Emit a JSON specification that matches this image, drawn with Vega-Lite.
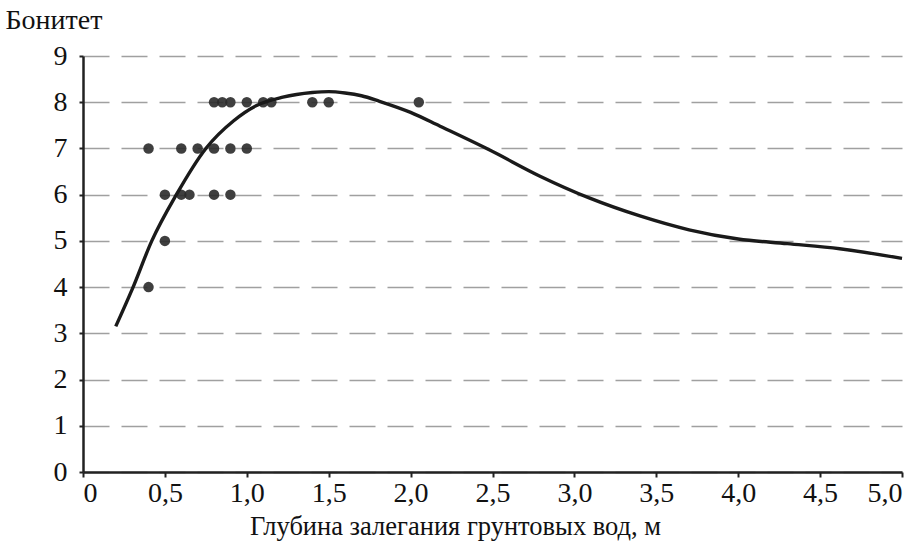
{
  "$schema": "https://vega.github.io/schema/vega-lite/v6.json",
  "width": 819,
  "height": 416,
  "autosize": {"type": "none"},
  "padding": {"left": 83, "top": 56, "right": 22, "bottom": 75},
  "background": "white",
  "config": {
    "view": {"stroke": null},
    "font": "Liberation Serif"
  },
  "datasets": {
    "pts": [
      {"x": 0.8, "y": 8}, {"x": 0.85, "y": 8}, {"x": 0.9, "y": 8}, {"x": 1.0, "y": 8}, {"x": 1.1, "y": 8}, {"x": 1.15, "y": 8}, {"x": 1.4, "y": 8}, {"x": 1.5, "y": 8}, {"x": 2.05, "y": 8},
      {"x": 0.4, "y": 7}, {"x": 0.6, "y": 7}, {"x": 0.7, "y": 7}, {"x": 0.8, "y": 7}, {"x": 0.9, "y": 7}, {"x": 1.0, "y": 7},
      {"x": 0.5, "y": 6}, {"x": 0.6, "y": 6}, {"x": 0.65, "y": 6}, {"x": 0.8, "y": 6}, {"x": 0.9, "y": 6},
      {"x": 0.5, "y": 5},
      {"x": 0.4, "y": 4}
    ],
    "curve": [
      {"x": 0.2, "y": 3.15}, {"x": 0.3, "y": 3.95}, {"x": 0.42, "y": 5.0}, {"x": 0.57, "y": 6.0},
      {"x": 0.75, "y": 7.0}, {"x": 0.92, "y": 7.6}, {"x": 1.06, "y": 7.93}, {"x": 1.22, "y": 8.11},
      {"x": 1.4, "y": 8.21}, {"x": 1.5, "y": 8.23}, {"x": 1.6, "y": 8.2}, {"x": 1.7, "y": 8.14},
      {"x": 1.81, "y": 8.02}, {"x": 2.0, "y": 7.78}, {"x": 2.18, "y": 7.48}, {"x": 2.48, "y": 6.97},
      {"x": 2.79, "y": 6.4}, {"x": 3.09, "y": 5.93}, {"x": 3.4, "y": 5.54}, {"x": 3.7, "y": 5.24},
      {"x": 4.0, "y": 5.04}, {"x": 4.3, "y": 4.94}, {"x": 4.62, "y": 4.83}, {"x": 5.0, "y": 4.62}
    ]
  },
  "layer": [
    {
      "data": {"name": "pts"},
      "mark": {"type": "circle", "size": 110, "color": "#2a2a2a", "opacity": 0.9},
      "encoding": {
        "x": {
          "field": "x", "type": "quantitative",
          "scale": {"domain": [0, 5], "nice": false, "zero": true},
          "axis": {
            "values": [0, 0.5, 1, 1.5, 2, 2.5, 3, 3.5, 4, 4.5, 5],
            "labelExpr": "datum.value == 0 ? '0' : replace(format(datum.value, '.1f'), '.', ',')",
            "grid": false,
            "domainColor": "#222", "domainWidth": 2.5,
            "tickColor": "#222", "tickWidth": 2, "tickSize": 5,
            "labelFont": "Liberation Serif", "labelFontSize": 28, "labelColor": "#111",
            "labelPadding": 2,
            "title": "Глубина залегания грунтовых вод, м",
            "titleFont": "Liberation Serif", "titleFontSize": 26.5, "titleFontWeight": "normal", "titleColor": "#111",
            "titleX": 372, "titleY": 62, "titleAnchor": null, "titleAlign": "center", "titleBaseline": "alphabetic"
          }
        },
        "y": {
          "field": "y", "type": "quantitative",
          "scale": {"domain": [0, 9], "nice": false},
          "axis": {
            "values": [0, 1, 2, 3, 4, 5, 6, 7, 8, 9],
            "format": "d",
            "grid": true,
            "gridColor": "#a0a0a0", "gridWidth": 1.5, "gridDash": [26, 12],
            "domainColor": "#222", "domainWidth": 2.5,
            "tickColor": "#222", "tickWidth": 2, "tickSize": 4,
            "labelFont": "Liberation Serif", "labelFontSize": 28, "labelColor": "#111",
            "labelPadding": 12,
            "title": "Бонитет",
            "titleFont": "Liberation Serif", "titleFontSize": 28, "titleFontWeight": "normal", "titleColor": "#111",
            "titleAngle": 0, "titleX": -78, "titleY": -28, "titleAlign": "left", "titleBaseline": "alphabetic"
          }
        }
      }
    },
    {
      "data": {"name": "curve"},
      "mark": {"type": "line", "interpolate": "monotone", "color": "#1a1a1a", "strokeWidth": 3.4},
      "encoding": {
        "x": {"field": "x", "type": "quantitative"},
        "y": {"field": "y", "type": "quantitative"}
      }
    }
  ]
}
